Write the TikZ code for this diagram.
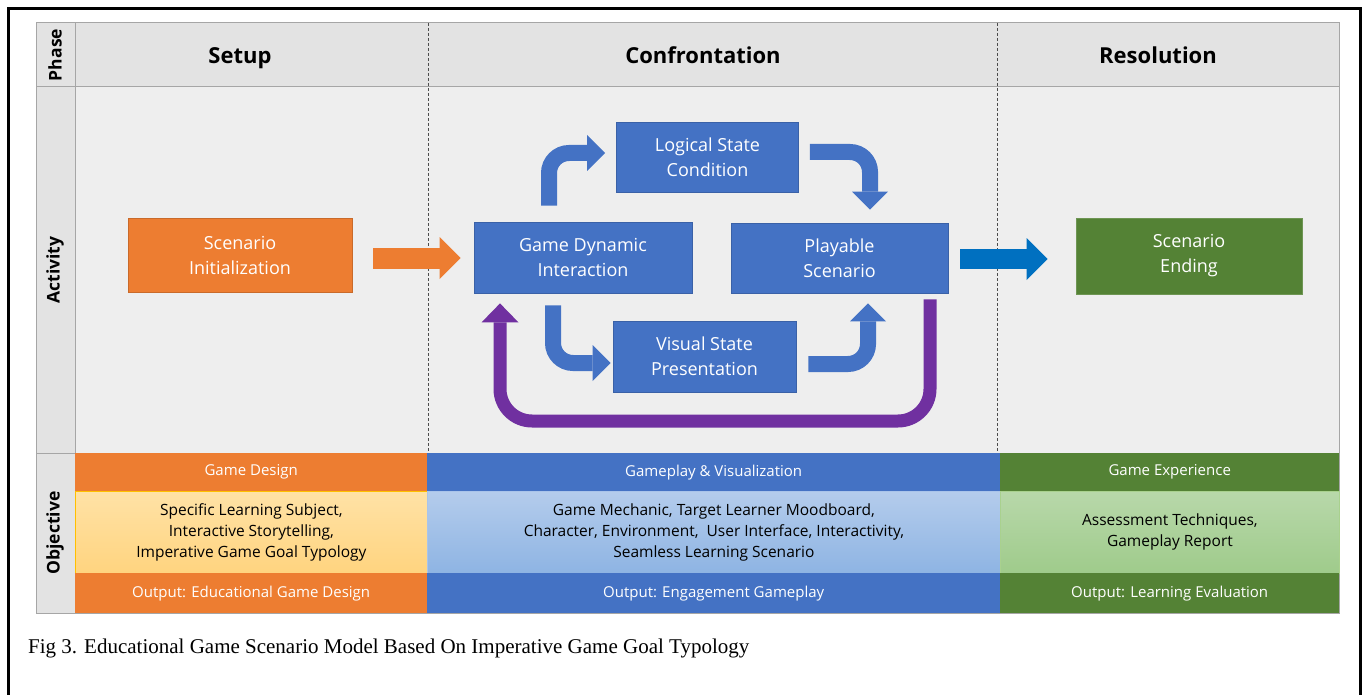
\documentclass[tikz,border=0pt]{standalone}
\usepackage{fontspec}
\setmainfont{Open Sans}
\newfontfamily\capfont{Liberation Serif}
\usetikzlibrary{arrows.meta,calc}
\definecolor{cOrange}{HTML}{ED7D31}
\definecolor{cBlue}{HTML}{4472C4}
\definecolor{cGreen}{HTML}{548235}
\definecolor{cDBlue}{HTML}{0070C0}
\definecolor{cPurple}{HTML}{7030A0}
\definecolor{cHead}{HTML}{E3E3E3}
\definecolor{cBg}{HTML}{EEEEEE}
\definecolor{cGrid}{HTML}{A6A6A6}
\definecolor{cLOtop}{HTML}{FFE2A6}
\definecolor{cLObot}{HTML}{FFD47F}
\definecolor{cLOdraw}{HTML}{FFC000}
\definecolor{cLBtop}{HTML}{B4CCEC}
\definecolor{cLBbot}{HTML}{8EB4E3}
\definecolor{cLBdraw}{HTML}{A9C4EA}
\definecolor{cLGtop}{HTML}{B8D8AA}
\definecolor{cLGbot}{HTML}{9FCB8B}
\definecolor{cLGdraw}{HTML}{A9D18E}
\tikzset{
  abox/.style={rectangle, inner sep=0pt, align=center, text=white,
    line width=0.8pt, font=\fontsize{18}{25}\selectfont},
  bluebox/.style={abox, fill=cBlue, draw=cBlue!85!black},
  orangebox/.style={abox, fill=cOrange, draw=cOrange!85!black},
  greenbox/.style={abox, fill=cGreen, draw=cGreen!85!white},
  hdr/.style={anchor=base, font=\fontsize{22}{26}\bfseries\selectfont},
  side/.style={rotate=90, font=\fontsize{17.5}{20}\bfseries\selectfont},
  cell/.style={rectangle, inner sep=0pt, align=center, anchor=north west},
  celltop/.style={cell, text=white, minimum height=38pt, font=\fontsize{15}{18}\selectfont},
  cellmid/.style={cell, text=black, minimum height=82pt, line width=0.8pt, font=\fontsize{15.5}{21}\selectfont},
  cellout/.style={cell, text=white, minimum height=40pt, font=\fontsize{15}{18}\selectfont},
  barrow/.style={draw=cBlue, line width=16pt, rounded corners=20pt,
    -{Triangle[length=18pt,width=36pt,line width=0pt]}},
  parrow/.style={draw=cPurple, line width=13pt, rounded corners=32pt,
    -{Triangle[length=19pt,width=37pt,line width=0pt]}},
  fatarrow/.style={line width=21pt, -{Triangle[length=21pt,width=42pt,line width=0pt]}},
  gridline/.style={draw=cGrid, line width=1pt},
  phaseline/.style={draw=black!70, line width=0.8pt, dash pattern=on 3pt off 2pt}
}
\begin{document}
\begin{tikzpicture}[x=1pt,y=-1pt]
\useasboundingbox (0,0) rectangle (1367,695);
\fill[white] (0,0) rectangle (1367,695);
% outer frame
\draw[line width=3pt] (8,695) -- (8,9) -- (1360,9) -- (1360,695);

% table backgrounds
\fill[cHead] (36,23) rectangle (1339,87);
\fill[cBg] (75,87) rectangle (1339,453);
\fill[cHead] (36,87) rectangle (75,613);
\draw[gridline] (36,23) rectangle (1339,613);
\draw[gridline] (36,87) -- (1339,87);
\draw[gridline] (75,23) -- (75,613);
\draw[gridline] (36,453) -- (75,453);
\draw[phaseline] (428,23) -- (428,453);
\draw[phaseline] (997,23) -- (997,453);

% side labels
\node[side] (lphase) at (55,55) {Phase};
\node[side] (lact) at (55,270) {Activity};
\node[side] (lobj) at (55,533) {Objective};

% phase headers
\node[hdr] (hsetup) at (240,64) {Setup};
\node[hdr] (hconf) at (703,64) {Confrontation};
\node[hdr] (hres) at (1158,64) {Resolution};

% objective rows
\node[celltop, fill=cOrange, minimum width=352pt] (gd) at (75,453) {Game Design};
\node[celltop, fill=cBlue, minimum width=573pt] (gv) at (427,453) {Gameplay \& Visualization};
\node[celltop, fill=cGreen, minimum width=339pt] (ge) at (1000,453) {Game Experience};

\node[cellmid, top color=cLOtop, bottom color=cLObot, draw=cLOdraw, minimum width=352pt] (om1) at (75,491)
  {Specific Learning Subject,\\Interactive Storytelling,\\Imperative Game Goal Typology};
\node[cellmid, top color=cLBtop, bottom color=cLBbot, draw=cLBdraw, minimum width=573pt] (om2) at (427,491)
  {Game Mechanic, Target Learner Moodboard,\\Character, Environment,\ \ User Interface, Interactivity,\\Seamless Learning Scenario};
\node[cellmid, top color=cLGtop, bottom color=cLGbot, draw=cLGdraw, minimum width=339pt] (om3) at (1000,491)
  {Assessment Techniques,\\Gameplay Report};

\node[cellout, fill=cOrange, minimum width=352pt] (out1) at (75,573) {Output: Educational Game Design};
\node[cellout, fill=cBlue, minimum width=573pt] (out2) at (427,573) {Output: Engagement Gameplay};
\node[cellout, fill=cGreen, minimum width=339pt] (out3) at (1000,573) {Output: Learning Evaluation};

% activity boxes
\node[orangebox, minimum width=224pt, minimum height=74pt] (sinit) at (240,255) {Scenario\\Initialization};
\node[bluebox, minimum width=218pt, minimum height=71pt] (gdi) at (583,257.5) {Game Dynamic\\Interaction};
\node[bluebox, minimum width=182pt, minimum height=70pt] (lsc) at (707.5,157) {Logical State\\Condition};
\node[bluebox, minimum width=217pt, minimum height=70pt] (ps) at (839.5,258) {Playable\\Scenario};
\node[bluebox, minimum width=183pt, minimum height=71pt] (vsp) at (704.5,356.5) {Visual State\\Presentation};
\node[greenbox, minimum width=226pt, minimum height=76pt] (send) at (1189,256) {\vphantom{g}Scenario\\Ending};

% connectors
\draw[fatarrow, draw=cOrange] ($(sinit.east)+(21,3)$) -- ($(gdi.west)+(-13,0.5)$);
\draw[fatarrow, draw=cDBlue, line width=20pt] ($(ps.east)+(12,1)$) -- ($(send.west)+(-28,3)$);

\draw[barrow] ($(gdi.north)+(-34,-16)$) |- ($(lsc.west)+(-11,-4)$);
\draw[barrow] ($(lsc.east)+(11,-5)$) -| ($(ps.north)+(30.5,-13)$);
\draw[barrow] ($(gdi.south)+(-30,12)$) |- ($(vsp.west)+(-2,6.5)$);
\draw[barrow] ($(vsp.east)+(12,7.5)$) -| ($(ps.south)+(28.5,10)$);

\coordinate (pa) at ($(ps.south)+(90.5,6)$);
\coordinate (pt) at ($(gdi.south)+(-83,10)$);
\coordinate (pb) at (0,421);
\draw[parrow] (pa) -- (pa |- pb) -- (pt |- pb) -- (pt);

% caption
\node[anchor=west, inner sep=0pt, font=\capfont\fontsize{21}{24}\selectfont] (cap) at (28,648)
  {Fig 3. Educational Game Scenario Model Based On Imperative Game Goal Typology};
\end{tikzpicture}
\end{document}
